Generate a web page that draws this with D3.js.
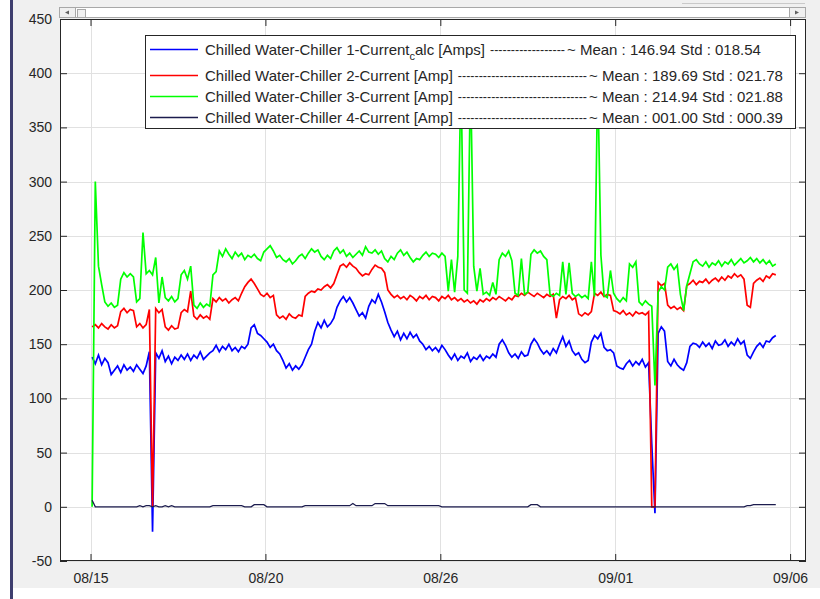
<!DOCTYPE html>
<html>
<head>
<meta charset="utf-8">
<script src="https://cdn.jsdelivr.net/npm/d3@7"></script>
<style>
  body { margin: 0; background: #ffffff; }
  svg { display: block; font-family: "Liberation Sans", Arial, Helvetica, sans-serif; }
</style>
</head>
<body>
<svg id="chart" width="820" height="599"></svg>
<script>
// ---------------- DATA ----------------
const seriesLabels = [
  ["Chilled Water-Chiller 1-Current", "c", "alc [Amps]"],
  ["Chilled Water-Chiller 2-Current [Amp]", "", ""],
  ["Chilled Water-Chiller 3-Current [Amp]", "", ""],
  ["Chilled Water-Chiller 4-Current [Amp]", "", ""]
];
const seriesMeans = ["146.94", "189.69", "214.94", "001.00"];
const seriesStds  = ["018.54", "021.78", "021.88", "000.39"];
const seriesColors = ["#0000ff", "#ff0000", "#00ff00", "#1c1c4e"];

const yTicks = [-50, 0, 50, 100, 150, 200, 250, 300, 350, 400, 450];
const xTickDays = [0, 5.5, 11, 16.5, 22];           // days after 08/15 00:00
const xTickLabels = ["08/15", "08/20", "08/26", "09/01", "09/06"];

// samples: one every 0.1 day starting 0.05 day after 08/15 00:00
const sampleStartDay = 0.05;
const sampleStepDay = 0.1;

const chiller1 = [
  138,132,140,131,137,133,122,126,130,124,
  131,126,129,125,131,127,123,130,143,-23,
  142,137,144,134,139,132,138,135,140,136,
  141,135,140,137,143,136,139,142,144,149,
  143,148,145,150,144,147,143,148,146,150,
  165,168,160,158,155,152,147,150,144,141,
  135,128,132,126,130,127,131,138,145,150,
  162,170,165,172,166,169,174,184,190,194,
  189,193,188,182,176,179,174,185,191,188,
  196,189,180,170,163,157,162,154,160,155,
  161,156,159,153,150,145,148,144,147,143,
  149,145,140,136,141,135,139,137,142,134,
  138,136,140,135,139,137,141,138,150,154,
  149,142,138,141,137,143,139,140,150,155,
  151,145,141,144,140,146,142,150,157,148,
  153,144,140,142,136,133,135,152,158,155,
  160,147,144,145,142,130,128,127,132,135,
  130,134,131,136,129,133,58,-6,160,166,
  162,134,130,136,131,128,126,133,148,151,
  150,147,152,148,151,146,153,149,150,154,
  148,152,149,155,150,153,140,137,143,148,
  151,147,153,152,156,158
];

const chiller2 = [
  166,168,165,169,166,164,168,165,167,180,
  183,179,182,181,166,169,165,168,182,0,
  183,179,182,166,163,167,164,165,179,182,
  180,199,176,173,177,174,176,173,192,189,
  193,190,192,188,191,193,190,197,203,207,
  210,206,201,196,194,197,193,195,177,174,
  176,173,178,175,174,177,176,194,197,199,
  198,201,200,203,205,202,206,214,222,224,
  221,225,222,220,216,213,215,214,219,223,
  221,220,216,200,196,193,195,192,194,191,
  195,193,190,194,192,195,191,194,193,190,
  194,192,195,191,193,190,192,189,191,188,
  190,187,191,189,192,190,193,191,194,192,
  190,193,191,195,194,197,195,198,196,194,
  197,195,193,196,194,196,174,191,194,192,
  195,191,193,178,176,179,177,180,197,195,
  198,194,196,195,181,180,178,181,177,179,
  176,180,178,179,177,180,0,0,207,204,
  206,186,183,185,182,184,181,204,206,209,
  205,208,207,210,206,209,211,208,212,209,
  213,211,215,212,214,210,186,184,206,209,
  211,208,213,211,215,214
];

const chiller3 = [
  0,300,222,205,189,185,188,184,186,210,
  216,212,215,212,189,192,253,215,218,214,
  230,188,212,193,190,194,189,192,214,218,
  210,222,186,183,188,184,187,185,214,217,
  236,231,238,233,229,235,231,234,228,232,
  230,233,229,227,235,238,241,236,230,232,
  228,226,229,224,227,231,233,229,234,238,
  235,237,231,228,232,229,236,239,234,237,
  231,234,230,233,236,232,240,235,234,237,
  233,236,229,226,231,228,234,237,232,235,
  230,226,229,228,232,235,231,234,233,230,
  234,231,199,228,198,231,400,200,197,400,
  222,199,220,196,198,195,207,196,228,234,
  231,236,227,197,195,229,196,198,233,237,
  234,236,231,228,196,194,197,195,226,196,
  225,197,194,196,193,195,192,226,194,400,
  232,195,193,218,197,192,189,193,190,224,
  221,226,189,186,190,187,185,112,198,203,
  200,221,224,219,223,196,181,204,215,226,
  228,224,222,226,221,225,223,227,222,226,
  224,228,223,226,229,225,227,230,226,229,
  225,228,224,227,222,224
];

const chiller4 = [
  6,0,0,0,0,0,0,0,0,0,
  0,0,0,0,0,1,0,1,1,0,
  1,0,0,1,0,1,0,0,0,0,
  0,0,0,0,0,0,0,0,1,1,
  1,1,1,1,1,1,1,1,0,0,
  0,2,2,2,2,0,0,0,0,0,
  0,0,0,0,0,0,0,1,1,1,
  1,1,1,1,1,1,1,1,1,1,
  1,1,3,1,1,1,1,1,1,3,
  3,3,3,1,1,1,1,1,1,1,
  1,1,1,1,1,1,1,1,1,1,
  0,0,0,0,0,0,0,0,0,0,
  0,0,0,0,0,0,0,0,0,0,
  0,0,0,0,0,0,0,0,2,2,
  2,0,0,0,0,0,0,0,0,0,
  0,0,0,0,0,0,0,0,0,0,
  0,0,0,0,0,0,0,0,0,0,
  0,0,0,0,0,0,0,0,0,0,
  0,0,0,0,0,0,0,0,0,0,
  0,0,0,0,0,0,0,0,0,0,
  0,0,0,0,0,0,1,1,2,2,
  2,2,2,2,2,2
];

const allSeries = [chiller1, chiller2, chiller3, chiller4];

// ---------------- LAYOUT ----------------
const svg = d3.select("#chart");
const W = 820, H = 599;
const P = { left: 60, top: 19, right: 806, bottom: 561 };
const ink = "#262626";
const gridColor = "#e1e1e1";

// figure background
svg.append("rect").attr("x", 0).attr("y", 0).attr("width", W).attr("height", H).attr("fill", "#ffffff");
svg.append("rect").attr("x", 13).attr("y", 0).attr("width", W - 13).attr("height", 588).attr("fill", "#f0f0f0");
svg.append("rect").attr("x", 10).attr("y", 0).attr("width", 3).attr("height", H).attr("fill", "#3e3e6e");
svg.append("line").attr("x1", 682).attr("x2", 805).attr("y1", 3.5).attr("y2", 3.5)
  .attr("stroke", "#c9c9c9").attr("stroke-width", 1);

// scrollbar
const sb = svg.append("g");
sb.append("rect").attr("x", 59.5).attr("y", 7.5).attr("width", 746).attr("height", 10)
  .attr("fill", "#ffffff").attr("stroke", "#a8a8a8");
sb.append("rect").attr("x", 59.5).attr("y", 7.5).attr("width", 16).attr("height", 10)
  .attr("fill", "#f0f0f0").attr("stroke", "#a8a8a8");
sb.append("path").attr("d", "M65,12.5 L69,10.5 L69,14.5 Z").attr("fill", "#606060");
sb.append("rect").attr("x", 77.5).attr("y", 9.5).attr("width", 8).attr("height", 8)
  .attr("fill", "#f0f0f0").attr("stroke", "#a8a8a8");
sb.append("rect").attr("x", 789.5).attr("y", 7.5).attr("width", 16).attr("height", 10)
  .attr("fill", "#f0f0f0").attr("stroke", "#a8a8a8");
sb.append("path").attr("d", "M799,12.5 L795,10.5 L795,14.5 Z").attr("fill", "#606060");

// scales
const x = d3.scaleLinear().domain([-0.96, 22.5]).range([P.left, P.right]);
const y = d3.scaleLinear().domain([-50, 450]).range([P.bottom, P.top]);

// plot background
svg.append("rect").attr("x", P.left).attr("y", P.top)
  .attr("width", P.right - P.left).attr("height", P.bottom - P.top).attr("fill", "#ffffff");

// grid
const grid = svg.append("g");
grid.selectAll(".gy").data(yTicks).join("line")
  .attr("x1", P.left).attr("x2", P.right)
  .attr("y1", d => Math.round(y(d)) + 0.5).attr("y2", d => Math.round(y(d)) + 0.5)
  .attr("stroke", gridColor);
grid.selectAll(".gx").data(xTickDays).join("line")
  .attr("y1", P.top).attr("y2", P.bottom)
  .attr("x1", d => Math.round(x(d)) + 0.5).attr("x2", d => Math.round(x(d)) + 0.5)
  .attr("stroke", gridColor);

// series
const clipId = "plotclip";
svg.append("clipPath").attr("id", clipId).append("rect")
  .attr("x", P.left).attr("y", P.top).attr("width", P.right - P.left).attr("height", P.bottom - P.top);
const line = d3.line()
  .x((d, i) => x(sampleStartDay + sampleStepDay * i))
  .y(d => y(d));
const gSeries = svg.append("g").attr("clip-path", `url(#${clipId})`);
allSeries.forEach((s, k) => {
  gSeries.append("path").datum(s)
    .attr("d", line)
    .attr("fill", "none")
    .attr("stroke", seriesColors[k])
    .attr("stroke-width", k === 3 ? 1.3 : 1.7)
    .attr("stroke-linejoin", "miter");
});

// axes (inward ticks on all four sides)
const fmtX = d => xTickLabels[xTickDays.indexOf(d)];
const fmtY = d => String(d);
const axL = svg.append("g").attr("transform", `translate(${P.left},0)`)
  .call(d3.axisLeft(y).tickValues(yTicks).tickSize(-7).tickPadding(8).tickFormat(fmtY));
const axR = svg.append("g").attr("transform", `translate(${P.right},0)`)
  .call(d3.axisRight(y).tickValues(yTicks).tickSize(-7).tickFormat(""));
const axB = svg.append("g").attr("transform", `translate(0,${P.bottom})`)
  .call(d3.axisBottom(x).tickValues(xTickDays).tickSize(-7).tickPadding(12).tickFormat(fmtX));
const axT = svg.append("g").attr("transform", `translate(0,${P.top})`)
  .call(d3.axisTop(x).tickValues(xTickDays).tickSize(-7).tickFormat(""));
[axL, axR, axB, axT].forEach(g => {
  g.select(".domain").remove();
  g.selectAll(".tick line").attr("stroke", ink);
  g.selectAll(".tick text").attr("fill", ink)
    .style("font-size", "14px")
    .style("font-family", "'Liberation Sans', Arial, sans-serif");
});
svg.append("rect").attr("x", P.left + 0.5).attr("y", P.top + 0.5)
  .attr("width", P.right - P.left - 1).attr("height", P.bottom - P.top - 1)
  .attr("fill", "none").attr("stroke", ink);

// legend
const L = { x: 145.5, y: 35.5, w: 650, h: 93 };
const rowY = [49, 75, 96, 117];
const statX = [567, 589, 589, 589];
const lg = svg.append("g");
lg.append("rect").attr("x", L.x).attr("y", L.y).attr("width", L.w).attr("height", L.h)
  .attr("fill", "#ffffff").attr("stroke", ink);
seriesLabels.forEach((parts, k) => {
  const ry = rowY[k];
  lg.append("line").attr("x1", 150).attr("x2", 198).attr("y1", ry + 0.5).attr("y2", ry + 0.5)
    .attr("stroke", seriesColors[k]).attr("stroke-width", 1.3);
  const t = lg.append("text").attr("x", 205).attr("y", ry + 5.5)
    .attr("fill", ink).style("font-size", "15px");
  t.append("tspan").text(parts[0]);
  if (parts[1]) {
    t.append("tspan").attr("dy", 5).style("font-size", "11px").text(parts[1]);
    t.append("tspan").attr("dy", -5).text(parts[2]);
  }
  const endX = 205 + t.node().getComputedTextLength() + 5;
  const gapW = statX[k] - 2 - endX;
  const nDash = Math.max(1, Math.round(gapW / 4.2));
  lg.append("text").attr("x", endX).attr("y", ry + 5)
    .attr("fill", ink).style("font-size", "12px")
    .attr("textLength", gapW).attr("lengthAdjust", "spacingAndGlyphs")
    .text("-".repeat(nDash));
  lg.append("text").attr("x", statX[k]).attr("y", ry + 5.5)
    .attr("fill", ink).style("font-size", "15px")
    .text(`~ Mean : ${seriesMeans[k]} Std : ${seriesStds[k]}`);
});
</script>
</body>
</html>
